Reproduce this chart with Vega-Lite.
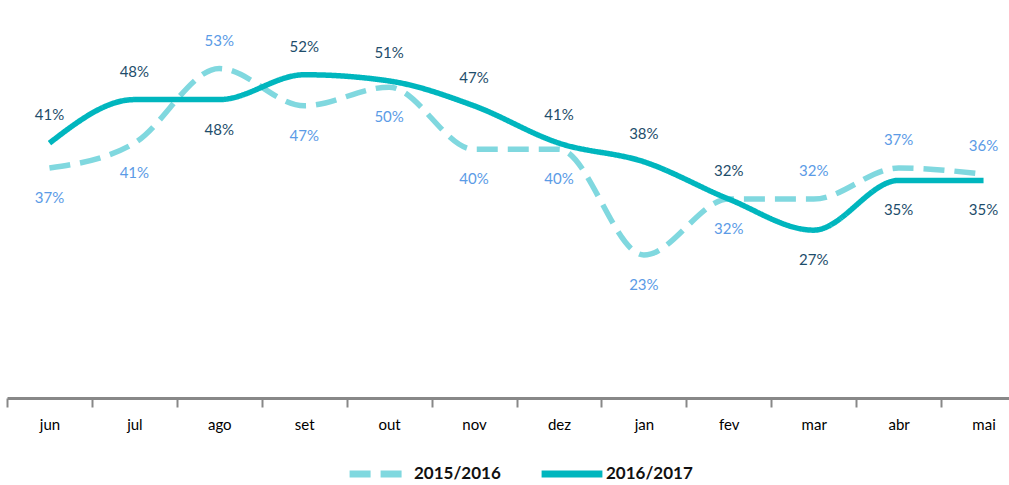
{
  "$schema": "https://vega.github.io/schema/vega-lite/v6.json",
  "width": 1003,
  "height": 373,
  "padding": {"left": 6, "top": 25, "right": 0, "bottom": 0},
  "autosize": {"type": "pad"},
  "background": "#ffffff",
  "config": {"view": {"stroke": null}, "font": "Lato"},
  "data": {
    "values": [
      {"month": "jun", "series": "2015/2016", "value": 37},
      {"month": "jul", "series": "2015/2016", "value": 41},
      {"month": "ago", "series": "2015/2016", "value": 53},
      {"month": "set", "series": "2015/2016", "value": 47},
      {"month": "out", "series": "2015/2016", "value": 50},
      {"month": "nov", "series": "2015/2016", "value": 40},
      {"month": "dez", "series": "2015/2016", "value": 40},
      {"month": "jan", "series": "2015/2016", "value": 23},
      {"month": "fev", "series": "2015/2016", "value": 32},
      {"month": "mar", "series": "2015/2016", "value": 32},
      {"month": "abr", "series": "2015/2016", "value": 37},
      {"month": "mai", "series": "2015/2016", "value": 36},
      {"month": "jun", "series": "2016/2017", "value": 41},
      {"month": "jul", "series": "2016/2017", "value": 48},
      {"month": "ago", "series": "2016/2017", "value": 48},
      {"month": "set", "series": "2016/2017", "value": 52},
      {"month": "out", "series": "2016/2017", "value": 51},
      {"month": "nov", "series": "2016/2017", "value": 47},
      {"month": "dez", "series": "2016/2017", "value": 41},
      {"month": "jan", "series": "2016/2017", "value": 38},
      {"month": "fev", "series": "2016/2017", "value": 32},
      {"month": "mar", "series": "2016/2017", "value": 27},
      {"month": "abr", "series": "2016/2017", "value": 35},
      {"month": "mai", "series": "2016/2017", "value": 35}
    ]
  },
  "transform": [
    {"calculate": "datum.value + '%'", "as": "label"},
    {
      "window": [{"op": "row_number", "as": "rk"}],
      "groupby": ["month"],
      "sort": [{"field": "value", "order": "descending"}, {"field": "series", "order": "descending"}]
    }
  ],
  "encoding": {
    "x": {
      "field": "month",
      "type": "nominal",
      "sort": ["jun", "jul", "ago", "set", "out", "nov", "dez", "jan", "fev", "mar", "abr", "mai"],
      "scale": {"type": "band", "range": [0, 1019], "paddingInner": 0, "paddingOuter": 0},
      "axis": {
        "title": null,
        "labelAngle": 0,
        "labelFontSize": 15,
        "labelColor": "#000000",
        "labelPadding": 10,
        "domainColor": "#888888",
        "domainWidth": 3,
        "tickColor": "#888888",
        "tickWidth": 2,
        "tickSize": 9,
        "tickBand": "extent",
        "grid": false
      }
    },
    "y": {
      "field": "value",
      "type": "quantitative",
      "scale": {"domain": [0, 60], "nice": false, "zero": true},
      "axis": null
    }
  },
  "layer": [
    {
      "mark": {"type": "line", "interpolate": "monotone", "strokeWidth": 5.5, "strokeCap": "butt"},
      "encoding": {
        "color": {
          "field": "series",
          "type": "nominal",
          "scale": {"domain": ["2015/2016", "2016/2017"], "range": ["#80d8df", "#00b6be"]},
          "legend": {
            "title": null,
            "orient": "none",
            "legendX": 339,
            "legendY": 415,
            "direction": "horizontal",
            "symbolType": "stroke",
            "symbolSize": 3700,
            "symbolStrokeWidth": 7,
            "labelFontSize": 17,
            "labelFontWeight": "bold",
            "labelColor": "#111111",
            "labelOffset": 0,
            "columnPadding": 26
          }
        },
        "strokeDash": {
          "field": "series",
          "type": "nominal",
          "scale": {"domain": ["2015/2016", "2016/2017"], "range": [[21, 10], [1, 0]]},
          "legend": {
            "title": null,
            "orient": "none",
            "legendX": 339,
            "legendY": 415,
            "direction": "horizontal",
            "symbolType": "stroke",
            "symbolSize": 3700,
            "symbolStrokeWidth": 7,
            "labelFontSize": 17,
            "labelFontWeight": "bold",
            "labelColor": "#111111",
            "labelOffset": 0,
            "columnPadding": 26
          }
        }
      }
    },
    {
      "transform": [{"filter": "datum.rk === 1"}],
      "mark": {"type": "text", "dy": -28, "fontSize": 15},
      "encoding": {
        "text": {"field": "label"},
        "color": {"condition": {"test": "datum.series === '2016/2017'", "value": "#1e4d6b"}, "value": "#5b9be6"}
      }
    },
    {
      "transform": [{"filter": "datum.rk === 2"}],
      "mark": {"type": "text", "dy": 30, "fontSize": 15},
      "encoding": {
        "text": {"field": "label"},
        "color": {"condition": {"test": "datum.series === '2016/2017'", "value": "#1e4d6b"}, "value": "#5b9be6"}
      }
    }
  ]
}
